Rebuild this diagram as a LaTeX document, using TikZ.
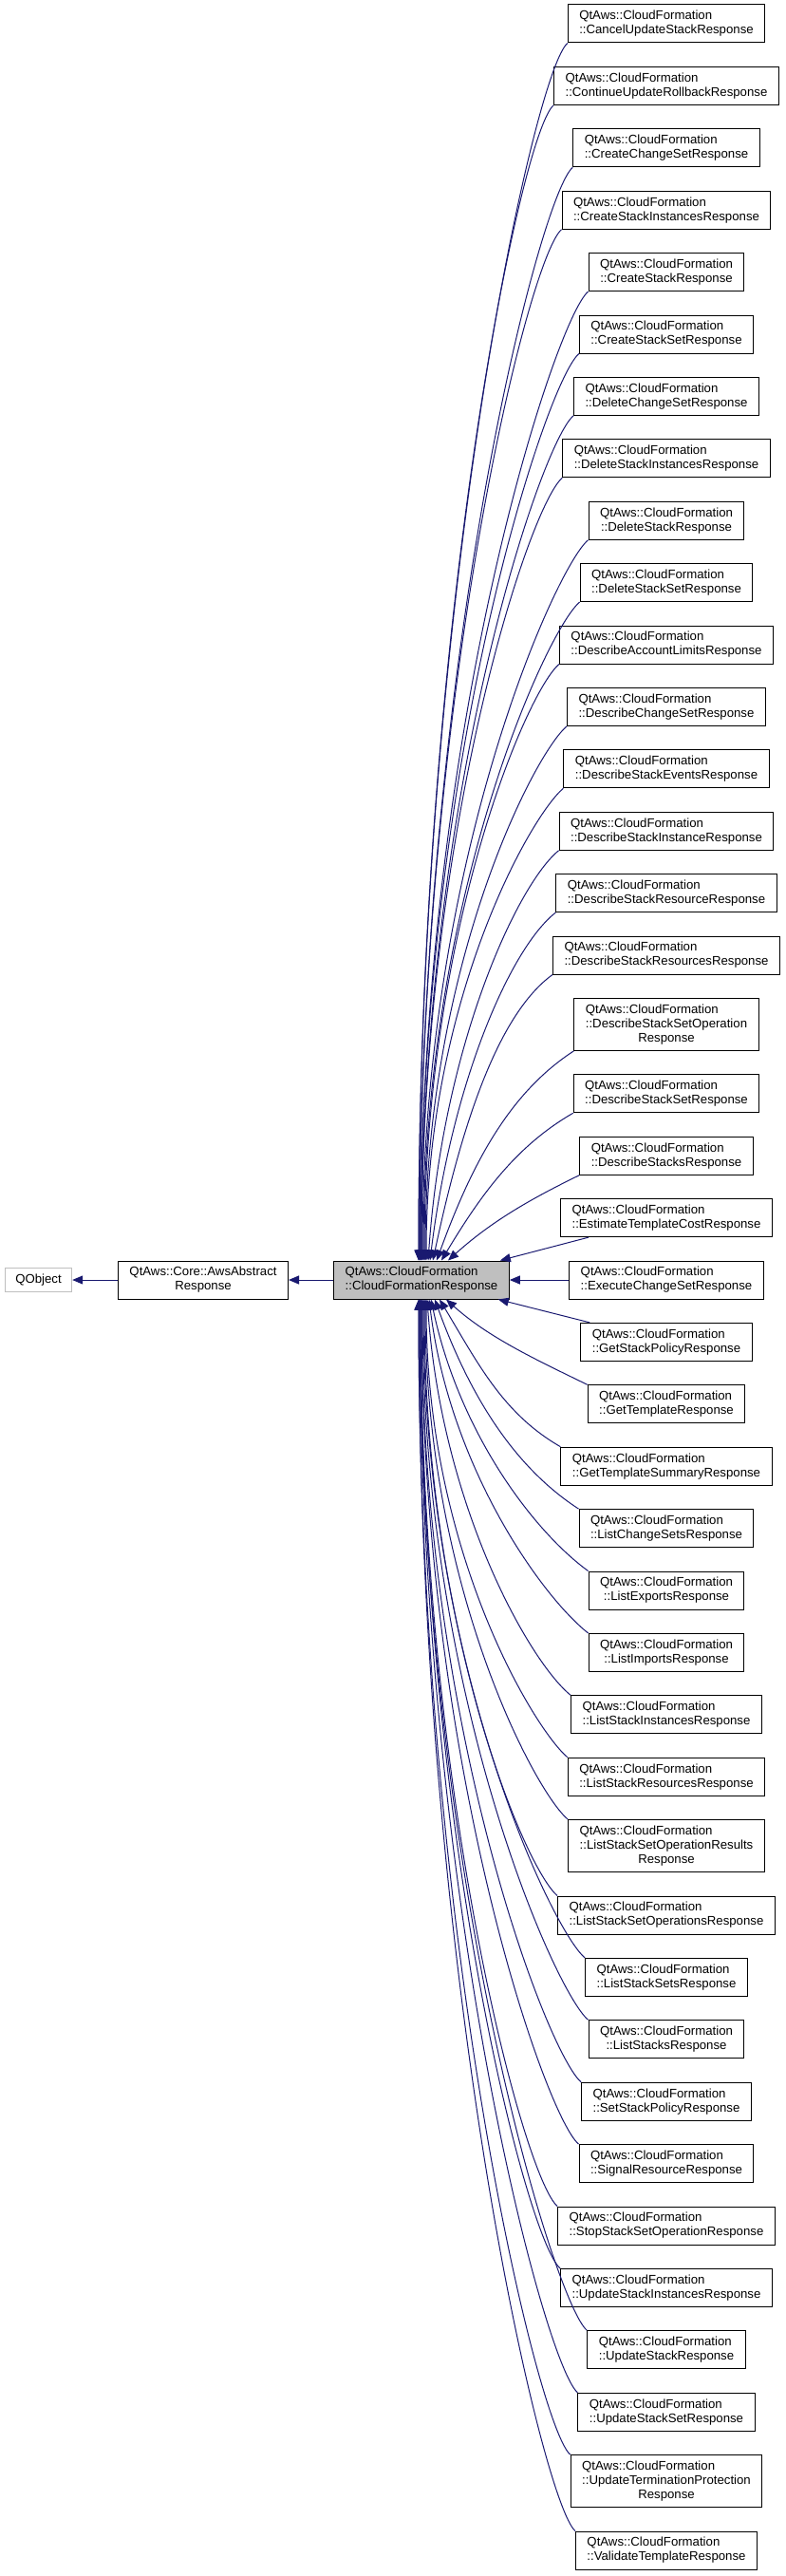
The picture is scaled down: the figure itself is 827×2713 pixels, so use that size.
\documentclass[tikz,border=0pt]{standalone}
\usepackage{fontspec}
\setmainfont{Liberation Sans}
\usetikzlibrary{arrows.meta}

\definecolor{edgeblue}{HTML}{191970}
\definecolor{boxgrey}{HTML}{BFBFBF}

\newcommand{\midline}[1]{\hfill#1\hfill\null}
\newcommand{\cfresp}[1]{QtAws::CloudFormation\\\midline{::#1}}

\begin{document}
\begin{tikzpicture}[
  x=1pt, y=-1pt,
  >={Triangle[length=11pt,width=9pt]},
  every node/.style={font=\fontsize{13.2}{15}\selectfont},
  cls/.style={draw, fill=white, line width=1pt, inner xsep=12pt, inner ysep=2pt, minimum height=40pt, align=left},
  cls3/.style={cls, minimum height=55pt},
  inh/.style={->, color=edgeblue, line width=1pt}
]
  \useasboundingbox (0,0) rectangle (827,2713);

  \node[draw=boxgrey, line width=1pt, inner xsep=11pt, minimum height=25pt] (qobj) at (40.5,1348) {QObject};
  \node[cls] (aws) at (214,1348) {QtAws::Core::AwsAbstract\\\midline{Response}};
  \node[cls, fill=boxgrey] (cfr) at (444,1348) {\cfresp{CloudFormationResponse}};

  \node[cls] (c01) at (702,25) {\cfresp{CancelUpdateStackResponse}};
  \node[cls] (c02) at (702,90.4) {\cfresp{ContinueUpdateRollbackResponse}};
  \node[cls] (c03) at (702,155.8) {\cfresp{CreateChangeSetResponse}};
  \node[cls] (c04) at (702,221.2) {\cfresp{CreateStackInstancesResponse}};
  \node[cls] (c05) at (702,286.6) {\cfresp{CreateStackResponse}};
  \node[cls] (c06) at (702,352) {\cfresp{CreateStackSetResponse}};
  \node[cls] (c07) at (702,417.4) {\cfresp{DeleteChangeSetResponse}};
  \node[cls] (c08) at (702,482.8) {\cfresp{DeleteStackInstancesResponse}};
  \node[cls] (c09) at (702,548.2) {\cfresp{DeleteStackResponse}};
  \node[cls] (c10) at (702,613.6) {\cfresp{DeleteStackSetResponse}};
  \node[cls] (c11) at (702,679) {\cfresp{DescribeAccountLimitsResponse}};
  \node[cls] (c12) at (702,744.4) {\cfresp{DescribeChangeSetResponse}};
  \node[cls] (c13) at (702,809.8) {\cfresp{DescribeStackEventsResponse}};
  \node[cls] (c14) at (702,875.2) {\cfresp{DescribeStackInstanceResponse}};
  \node[cls] (c15) at (702,940.6) {\cfresp{DescribeStackResourceResponse}};
  \node[cls] (c16) at (702,1006) {\cfresp{DescribeStackResourcesResponse}};
  \node[cls3] (c17) at (702,1078.9) {QtAws::CloudFormation\\::DescribeStackSetOperation\\\midline{Response}};
  \node[cls] (c18) at (702,1151.8) {\cfresp{DescribeStackSetResponse}};
  \node[cls] (c19) at (702,1217.2) {\cfresp{DescribeStacksResponse}};
  \node[cls] (c20) at (702,1282.6) {\cfresp{EstimateTemplateCostResponse}};
  \node[cls] (c21) at (702,1348) {\cfresp{ExecuteChangeSetResponse}};
  \node[cls] (c22) at (702,1413.4) {\cfresp{GetStackPolicyResponse}};
  \node[cls] (c23) at (702,1478.8) {\cfresp{GetTemplateResponse}};
  \node[cls] (c24) at (702,1544.2) {\cfresp{GetTemplateSummaryResponse}};
  \node[cls] (c25) at (702,1609.6) {\cfresp{ListChangeSetsResponse}};
  \node[cls] (c26) at (702,1675) {\cfresp{ListExportsResponse}};
  \node[cls] (c27) at (702,1740.4) {\cfresp{ListImportsResponse}};
  \node[cls] (c28) at (702,1805.8) {\cfresp{ListStackInstancesResponse}};
  \node[cls] (c29) at (702,1871.2) {\cfresp{ListStackResourcesResponse}};
  \node[cls3] (c30) at (702,1944.1) {QtAws::CloudFormation\\::ListStackSetOperationResults\\\midline{Response}};
  \node[cls] (c31) at (702,2017) {\cfresp{ListStackSetOperationsResponse}};
  \node[cls] (c32) at (702,2082.4) {\cfresp{ListStackSetsResponse}};
  \node[cls] (c33) at (702,2147.8) {\cfresp{ListStacksResponse}};
  \node[cls] (c34) at (702,2213.2) {\cfresp{SetStackPolicyResponse}};
  \node[cls] (c35) at (702,2278.6) {\cfresp{SignalResourceResponse}};
  \node[cls] (c36) at (702,2344) {\cfresp{StopStackSetOperationResponse}};
  \node[cls] (c37) at (702,2409.4) {\cfresp{UpdateStackInstancesResponse}};
  \node[cls] (c38) at (702,2474.8) {\cfresp{UpdateStackResponse}};
  \node[cls] (c39) at (702,2540.2) {\cfresp{UpdateStackSetResponse}};
  \node[cls3] (c40) at (702,2613.1) {QtAws::CloudFormation\\::UpdateTerminationProtection\\\midline{Response}};
  \node[cls] (c41) at (702,2686) {\cfresp{ValidateTemplateResponse}};

  \path[inh]
    (aws) edge (qobj)
    (cfr) edge (aws)
    (c21) edge (cfr)
    ([xshift=30pt]c20.south west) edge ([xshift=-10pt]cfr.north east)
    ([xshift=10pt]c22.north west) edge ([xshift=-12pt]cfr.south east);

  \draw[inh] (c01.south west) .. controls +(220:45pt) and +(90:706pt) .. ([xshift=-3pt]cfr.north);
  \draw[inh] (c02.south west) .. controls +(220:45pt) and +(90:670pt) .. ([xshift=-3pt]cfr.north);
  \draw[inh] (c03.south west) .. controls +(220:45pt) and +(90:634pt) .. ([xshift=-2pt]cfr.north);
  \draw[inh] (c04.south west) .. controls +(220:45pt) and +(90:598pt) .. ([xshift=-2pt]cfr.north);
  \draw[inh] (c05.south west) .. controls +(220:45pt) and +(90:562pt) .. ([xshift=-1pt]cfr.north);
  \draw[inh] (c06.south west) .. controls +(220:45pt) and +(90:526pt) .. ([xshift=-1pt]cfr.north);
  \draw[inh] (c07.south west) .. controls +(220:45pt) and +(90:490pt) .. (cfr.north);
  \draw[inh] (c08.south west) .. controls +(220:45pt) and +(90:454pt) .. (cfr.north);
  \draw[inh] (c09.south west) .. controls +(220:45pt) and +(90:418pt) .. ([xshift=1pt]cfr.north);
  \draw[inh] (c10.south west) .. controls +(220:45pt) and +(90:382pt) .. ([xshift=2pt]cfr.north);
  \draw[inh] (c11.south west) .. controls +(220:45pt) and +(90:346pt) .. ([xshift=3pt]cfr.north);
  \draw[inh] (c12.south west) .. controls +(220:45pt) and +(90:310pt) .. ([xshift=4pt]cfr.north);
  \draw[inh] (c13.south west) .. controls +(220:45pt) and +(90:274pt) .. ([xshift=5pt]cfr.north);
  \draw[inh] (c14.south west) .. controls +(219:55pt) and +(86:230pt) .. ([xshift=7pt]cfr.north);
  \draw[inh] (c15.south west) .. controls +(218:60pt) and +(83:190pt) .. ([xshift=9pt]cfr.north);
  \draw[inh] (c16.south west) .. controls +(216:70pt) and +(78:150pt) .. ([xshift=12pt]cfr.north);
  \draw[inh] (c17.south west) .. controls +(213:80pt) and +(70:110pt) .. ([xshift=16pt]cfr.north);
  \draw[inh] (c18.south west) .. controls +(210:70pt) and +(59:80pt) .. ([xshift=21pt]cfr.north);
  \draw[inh] (c19.south west) .. controls +(206:60pt) and +(42:60pt) .. ([xshift=28pt]cfr.north);

  \draw[inh] (c23.north west) .. controls +(154:60pt) and +(318:60pt) .. ([xshift=26pt]cfr.south);
  \draw[inh] (c24.north west) .. controls +(150:70pt) and +(301:80pt) .. ([xshift=19pt]cfr.south);
  \draw[inh] (c25.north west) .. controls +(147:80pt) and +(290:110pt) .. ([xshift=14pt]cfr.south);
  \draw[inh] (c26.north west) .. controls +(144:70pt) and +(282:145pt) .. ([xshift=10pt]cfr.south);
  \draw[inh] (c27.north west) .. controls +(142:60pt) and +(277:180pt) .. ([xshift=8pt]cfr.south);
  \draw[inh] (c28.north west) .. controls +(141:55pt) and +(274:220pt) .. ([xshift=6pt]cfr.south);
  \draw[inh] (c29.north west) .. controls +(140:45pt) and +(270:266pt) .. ([xshift=5pt]cfr.south);
  \draw[inh] (c30.north west) .. controls +(140:45pt) and +(270:302pt) .. ([xshift=4pt]cfr.south);
  \draw[inh] (c31.north west) .. controls +(140:45pt) and +(270:346pt) .. ([xshift=3pt]cfr.south);
  \draw[inh] (c32.north west) .. controls +(140:45pt) and +(270:382pt) .. ([xshift=2pt]cfr.south);
  \draw[inh] (c33.north west) .. controls +(140:45pt) and +(270:418pt) .. ([xshift=1pt]cfr.south);
  \draw[inh] (c34.north west) .. controls +(140:45pt) and +(270:454pt) .. (cfr.south);
  \draw[inh] (c35.north west) .. controls +(140:45pt) and +(270:490pt) .. (cfr.south);
  \draw[inh] (c36.north west) .. controls +(140:45pt) and +(270:526pt) .. ([xshift=-1pt]cfr.south);
  \draw[inh] (c37.north west) .. controls +(140:45pt) and +(270:562pt) .. ([xshift=-1pt]cfr.south);
  \draw[inh] (c38.north west) .. controls +(140:45pt) and +(270:598pt) .. ([xshift=-2pt]cfr.south);
  \draw[inh] (c39.north west) .. controls +(140:45pt) and +(270:634pt) .. ([xshift=-2pt]cfr.south);
  \draw[inh] (c40.north west) .. controls +(140:45pt) and +(270:670pt) .. ([xshift=-3pt]cfr.south);
  \draw[inh] (c41.north west) .. controls +(140:45pt) and +(270:714pt) .. ([xshift=-3pt]cfr.south);
\end{tikzpicture}
\end{document}
